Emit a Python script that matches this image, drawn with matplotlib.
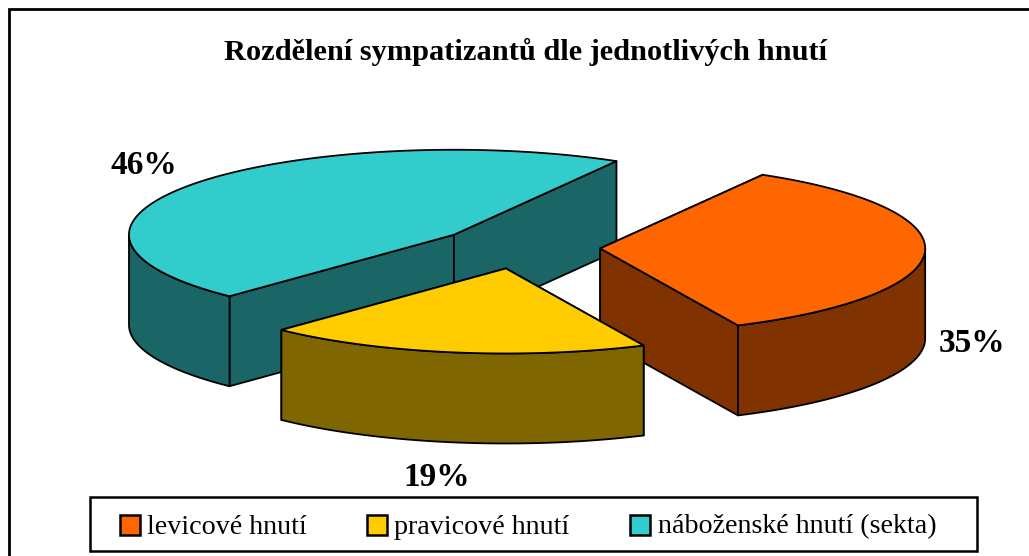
#!/usr/bin/env python3
# -*- coding: utf-8 -*-

import numpy as np
import matplotlib
matplotlib.use('Agg')
import matplotlib.pyplot as plt
from matplotlib.patches import Polygon, Rectangle

TITLE = 'Rozdělení sympatizantů dle jednotlivých hnutí'
labels = ['levicové hnutí', 'pravicové hnutí', 'náboženské hnutí (sekta)']
values = [34.7, 19.1, 46.2]
pct_labels = ['35%', '19%', '46%']
top_colors = ['#FF6600', '#FFCC00', '#33CCCC']
side_colors = ['#803300', '#806600', '#1A6666']

CX, CY = 519, 247.5
RX, RY = 325, 85
DEPTH = 90
EXPLODE = 0.25
START = 30


def pt(cx, cy, t):
    # t in degrees, clockwise from the top of the ellipse
    t = np.radians(t)
    return cx + RX * np.sin(t), cy - RY * np.cos(t)


def draw_slice(ax, start, end, top, side):
    mid = (start + end) / 2
    cx = CX + EXPLODE * RX * np.sin(np.radians(mid))
    cy = CY - EXPLODE * RY * np.cos(np.radians(mid))
    ts = np.linspace(start, end, 200)
    xs, ys = pt(cx, cy, ts)

    def wall(x, y):
        return np.column_stack([np.r_[x, x[::-1]], np.r_[y, y[::-1] + DEPTH]])

    kw = {'edgecolor': 'black', 'linewidth': 1.3, 'joinstyle': 'round'}
    # flat walls from the apex out to each rim end
    for i in (0, -1):
        ax.add_patch(Polygon(wall(np.array([cx, xs[i]]), np.array([cy, ys[i]])),
                             facecolor=side, **kw))
    # only the front half of the rim is seen
    t_norm = (ts + 360) % 360
    front = (t_norm >= 90) & (t_norm <= 270)
    if front.any():
        ax.add_patch(Polygon(wall(xs[front], ys[front]), facecolor=side, **kw))
    ax.add_patch(Polygon(np.column_stack([np.r_[cx, xs], np.r_[cy, ys]]),
                         facecolor=top, **kw))


fig = plt.figure(figsize=(10.29, 5.56), dpi=100)
ax = fig.add_axes([0, 0, 1, 1])
ax.set_xlim(0, 1029)
ax.set_ylim(556, 0)
ax.axis('off')
serif = ['Liberation Serif', 'DejaVu Serif']

# chart frame runs off the right and bottom of the picture
ax.add_patch(Rectangle((9, 9), 1040, 570, facecolor='white', edgecolor='black', linewidth=2))

edges = START + np.r_[0, np.cumsum(values)] * 3.6
for i in (2, 0, 1):
    draw_slice(ax, edges[i], edges[i + 1], top_colors[i], side_colors[i])

ax.text(525, 52, TITLE, family=serif, fontsize=21.9, fontweight='bold', ha='center', va='center')

pct_pos = [(972, 343), (437, 477), (144, 165)]
for txt, (x, y) in zip(pct_labels, pct_pos):
    ax.text(x, y, txt, family=serif, fontsize=24, fontweight='bold', ha='center', va='center')

ax.add_patch(Rectangle((90, 497), 887, 54, facecolor='white', edgecolor='black', linewidth=1.8))
swatch_x = [120, 367, 630]
text_x = [147, 394, 658]
for x, tx, lab, c in zip(swatch_x, text_x, labels, top_colors):
    ax.add_patch(Rectangle((x, 514.5), 20, 20, facecolor=c, edgecolor='black', linewidth=1.8))
    ax.text(tx, 527, lab, family=serif, fontsize=20.2, ha='left', va='center')

fig.savefig('out.png', dpi=100)
